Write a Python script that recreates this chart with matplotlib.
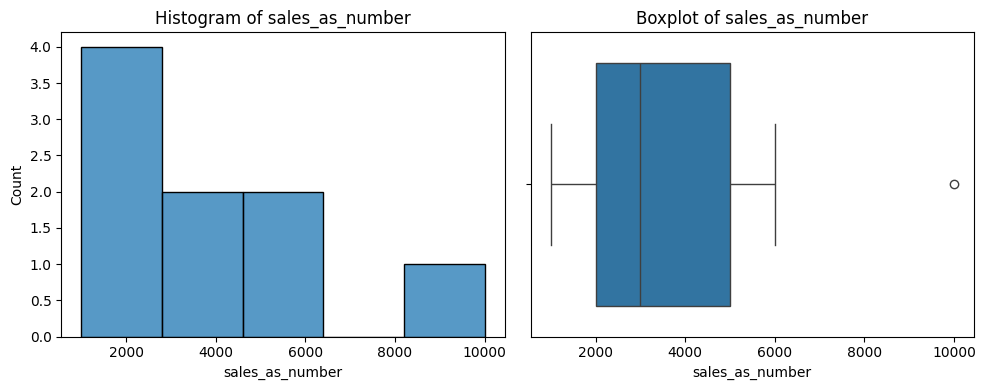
import matplotlib
matplotlib.use("Agg")
import matplotlib.pyplot as plt
import pandas as pd
import seaborn as sns

# valeurs (histogramme + boxplot)
sales_values = [1000, 1500, 2000, 2500, 3000, 4000, 5000, 6000, 10000]
col = "sales_as_number"

df = pd.DataFrame({col: sales_values})

fig, (ax1, ax2) = plt.subplots(1, 2, figsize=(10, 4), dpi=100)

sns.histplot(df[col], bins=5, ax=ax1)
ax1.set_title("Histogram of " + col)

sns.boxplot(x=df[col], ax=ax2)
ax2.set_title("Boxplot of " + col)

plt.tight_layout()
plt.savefig("out.png", dpi=100, bbox_inches="tight")
